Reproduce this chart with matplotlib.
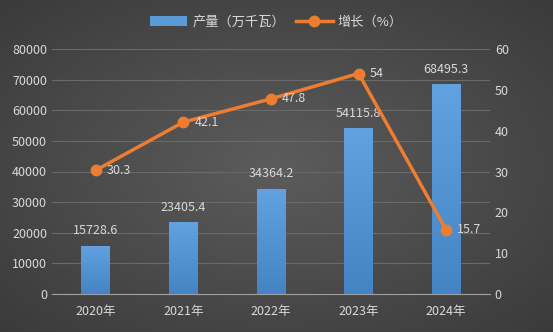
import matplotlib
matplotlib.use("Agg")
import matplotlib.pyplot as plt
import numpy as np

plt.rcParams['font.family'] = ['Noto Sans CJK SC', 'DejaVu Sans']

years = ["2020年", "2021年", "2022年", "2023年", "2024年"]
output = [15728.6, 23405.4, 34364.2, 54115.8, 68495.3]
growth = [30.3, 42.1, 47.8, 54, 15.7]
output_labels = ["15728.6", "23405.4", "34364.2", "54115.8", "68495.3"]
growth_labels = ["30.3", "42.1", "47.8", "54", "15.7"]

W, H = 553, 332
fig = plt.figure(figsize=(W / 100, H / 100), dpi=100)

# radial gradient background
bg = fig.add_axes([0, 0, 1, 1], zorder=-10)
yy, xx = np.mgrid[0:H, 0:W]
r = np.sqrt(((xx - W / 2) / (W / 2)) ** 2 + ((yy - H / 2) / (H / 2)) ** 2)
val = 0.36 - 0.13 * np.clip(r / 1.4, 0, 1)
bg.imshow(np.dstack([val, val, val]), aspect='auto', extent=[0, 1, 0, 1])
bg.axis('off')

txt = '#d9d9d9'
ax = fig.add_axes([52 / W, 1 - 294 / H, (490 - 52) / W, (294 - 49) / H])
ax.set_facecolor('none')
x = np.arange(len(years))
bars = ax.bar(x, output, width=0.33, color='#5b9bd5', zorder=3, label='产量（万千瓦）')
ax.set_xlim(-0.5, 4.5)
ax.set_ylim(0, 80000)

# vertical gradient on bars
grad = np.linspace(0, 1, 256).reshape(-1, 1)
top_c = np.array([0x62, 0xa2, 0xe0]) / 255
bot_c = np.array([0x44, 0x84, 0xc4]) / 255
img = (bot_c[None, None, :] * (1 - grad[..., None]) + top_c[None, None, :] * grad[..., None])
for b in bars:
    bx, by = b.get_x(), b.get_y()
    bw, bh = b.get_width(), b.get_height()
    im = ax.imshow(img, extent=[bx, bx + bw, by, by + bh], origin='lower',
                   aspect='auto', zorder=3.5)
    im.set_clip_path(b)
ax.set_xlim(-0.5, 4.5)
ax.set_ylim(0, 80000)

ax.set_yticks(np.arange(0, 80001, 10000))
ax.set_xticks(x)
ax.set_xticklabels(years)
ax.grid(axis='y', color='#6a6a6a', linewidth=0.8, zorder=0)
for s in ['top', 'right', 'left']:
    ax.spines[s].set_visible(False)
ax.spines['bottom'].set_color('#a0a0a0')
ax.tick_params(axis='both', colors=txt, labelsize=9, length=0)
ax.tick_params(axis='x', pad=8)
for xi, v, lab in zip(x, output, output_labels):
    ax.annotate(lab, (xi, v), xytext=(0, 6), textcoords='offset points',
                ha='center', va='bottom', color=txt, fontsize=9, zorder=5)

ax2 = ax.twinx()
ax2.set_ylim(0, 60)
ax2.set_yticks(np.arange(0, 61, 10))
for s in ['top', 'right', 'left', 'bottom']:
    ax2.spines[s].set_visible(False)
ax2.tick_params(axis='y', colors=txt, labelsize=9, length=0)
line, = ax2.plot(x, growth, color='#ed7d31', linewidth=2.5, marker='o',
                 markersize=7.5, zorder=6, label='增长（%）')
for xi, v, lab in zip(x, growth, growth_labels):
    ax2.annotate(lab, (xi, v), xytext=(8, 0), textcoords='offset points',
                 ha='left', va='center', color=txt, fontsize=9, zorder=7)

leg = fig.legend(handles=[bars, line], loc='center', bbox_to_anchor=(0.5, 1 - 22 / H),
                 ncol=2, frameon=False, fontsize=9.5, labelcolor=txt,
                 handlelength=2.8, columnspacing=0.8, handletextpad=0.4)

fig.savefig('out.png', dpi=100)
